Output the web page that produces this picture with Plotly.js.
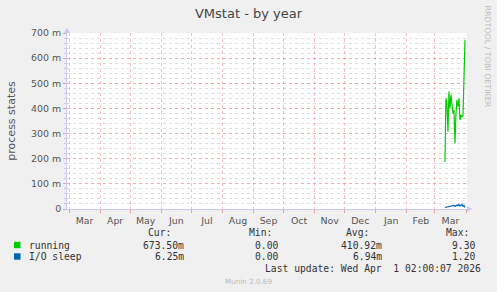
<!DOCTYPE html>
<html>
<head>
<meta charset="utf-8">
<script src="https://cdn.plot.ly/plotly-3.0.1.min.js"></script>
<style>
html,body{margin:0;padding:0;background:#f0f0f0;}
#chart{width:497px;height:292px;}
</style>
</head>
<body>
<div id="chart"></div>
<script>
// ---- data ----
const dates = ["2026-03-11","2026-03-12","2026-03-13","2026-03-14","2026-03-15","2026-03-16","2026-03-17",
  "2026-03-18","2026-03-19","2026-03-20","2026-03-21","2026-03-22","2026-03-23","2026-03-24",
  "2026-03-25","2026-03-26","2026-03-27","2026-03-28","2026-03-29","2026-03-30","2026-03-31"];
const running = [0.188,0.440,0.420,0.307,0.467,0.400,0.455,0.420,0.381,0.394,0.261,0.380,0.434,0.407,
  0.440,0.354,0.374,0.365,0.372,0.520,0.6735];
const ioSleep = [0.006,0.007,0.008,0.009,0.008,0.010,0.009,0.012,0.011,0.014,0.010,0.012,0.016,0.013,
  0.018,0.012,0.015,0.019,0.011,0.014,0.00625];
const yTickVals = [0,0.1,0.2,0.3,0.4,0.5,0.6,0.7];
const yTickText = ["0","100 m","200 m","300 m","400 m","500 m","600 m","700 m"];
const seriesNames = ["running","I/O sleep"];
const seriesColors = ["#00cc00","#0066b3"];
const curVals = ["673.50m","6.25m"];
const minVals = ["0.00","0.00"];
const avgVals = ["410.92m","6.94m"];
const maxVals = ["9.30","1.20"];
const xRange = ["2025-02-27 00:00","2026-04-02 00:00"];

// ---- layout helpers (pixel -> paper) ----
const L = 67, R = 467, T = 33, B = 209;
const px = x => (x - L) / (R - L);
const py = y => (B - y) / (B - T);

const mono = {family:"DejaVu Sans Mono", size:9.7, color:"#333"};
const annotations = [];
function txt(x, y, text, anchor, font){
  annotations.push({xref:"paper", yref:"paper", x:px(x), y:py(y), text:text, showarrow:false,
    xanchor:anchor, yanchor:"middle", font:font || mono});
}
// header
txt(172.5, 233, "Cur:", "right");
txt(273.5, 233, "Min:", "right");
txt(371, 233, "Avg:", "right");
txt(470.5, 233, "Max:", "right");
const rowY = [245, 256.5];
const shapes = [];
for (let i = 0; i < seriesNames.length; i++) {
  txt(26.5, rowY[i], seriesNames[i], "left");
  txt(185.5, rowY[i], curVals[i], "right");
  txt(279.5, rowY[i], minVals[i], "right");
  txt(383.5, rowY[i], avgVals[i], "right");
  txt(477, rowY[i], maxVals[i], "right");
  shapes.push({type:"rect", xref:"paper", yref:"paper", x0:px(14), x1:px(20.5),
    y0:py(rowY[i]+3.2), y1:py(rowY[i]-3.2), fillcolor:seriesColors[i], line:{width:0}});
}
txt(482.5, 268, "Last update: Wed Apr\u00a0\u00a01 02:00:07 2026", "right");
txt(248.5, 281, "Munin 2.0.69", "center", {family:"DejaVu Sans", size:7.2, color:"#bbbbbb"});
annotations.push({xref:"paper", yref:"paper", x:px(487.5), y:py(56), text:"RRDTOOL / TOBI OETIKER",
  showarrow:false, textangle:90, xanchor:"center", yanchor:"middle",
  font:{family:"DejaVu Sans", size:7.9, color:"#bbbbbb"}});

// axis arrows
shapes.push({type:"path", xref:"paper", yref:"paper",
  path:`M ${px(467)} ${py(206)} L ${px(472.5)} ${py(209)} L ${px(467)} ${py(212)} Z`,
  fillcolor:"#c8c8f8", line:{width:0}});
shapes.push({type:"path", xref:"paper", yref:"paper",
  path:`M ${px(64)} ${py(33)} L ${px(67)} ${py(27.5)} L ${px(70)} ${py(33)} Z`,
  fillcolor:"#c8c8f8", line:{width:0}});

const traces = [
  {x:dates, y:running, type:"scatter", mode:"lines", name:seriesNames[0],
   line:{color:seriesColors[0], width:1.2}, showlegend:false, hoverinfo:"skip"},
  {x:dates, y:ioSleep, type:"scatter", mode:"lines", name:seriesNames[1],
   line:{color:seriesColors[1], width:1.2}, showlegend:false, hoverinfo:"skip"}
];

const layout = {
  width:497, height:292,
  margin:{l:L, r:497-R, t:T, b:292-B, pad:0},
  paper_bgcolor:"#f0f0f0", plot_bgcolor:"#ffffff",
  title:{text:"VMstat - by year", x:0.5, xref:"container", xanchor:"center", y:1-13/292, yanchor:"middle",
    font:{family:"DejaVu Sans", size:13, color:"#444"}},
  xaxis:{type:"date", range:xRange, tick0:"2025-03-01", dtick:"M1", tickformat:"%b",
    ticklabelmode:"period", showgrid:true, gridcolor:"rgba(240,130,130,0.5)", griddash:"dot", gridwidth:1,
    ticks:"outside", ticklen:3, tickcolor:"#e8a0a0", showline:true, linecolor:"#c8c8f8", linewidth:1,
    zeroline:false, tickfont:{family:"DejaVu Sans", size:9.4, color:"#555"}, fixedrange:true},
  yaxis:{range:[0,0.7], tickmode:"array", tickvals:yTickVals, ticktext:yTickText,
    showgrid:true, gridcolor:"rgba(240,130,130,0.5)", griddash:"dot", gridwidth:1,
    ticks:"outside", ticklen:3, tickcolor:"#e8a0a0", showline:true, linecolor:"#c8c8f8", linewidth:1,
    zeroline:false, tickfont:{family:"DejaVu Sans", size:9.4, color:"#555"}, fixedrange:true,
    minor:{tickmode:"linear", tick0:0, dtick:0.02, showgrid:true, gridcolor:"#dddddd", griddash:"dot",
      ticks:"outside", ticklen:2, tickcolor:"#cccccc"},
    title:{text:"process states", standoff:13, font:{family:"DejaVu Sans", size:11, color:"#555"}}},
  annotations:annotations,
  shapes:shapes
};
Plotly.newPlot("chart", traces, layout, {displayModeBar:false, staticPlot:true});
</script>
</body>
</html>
